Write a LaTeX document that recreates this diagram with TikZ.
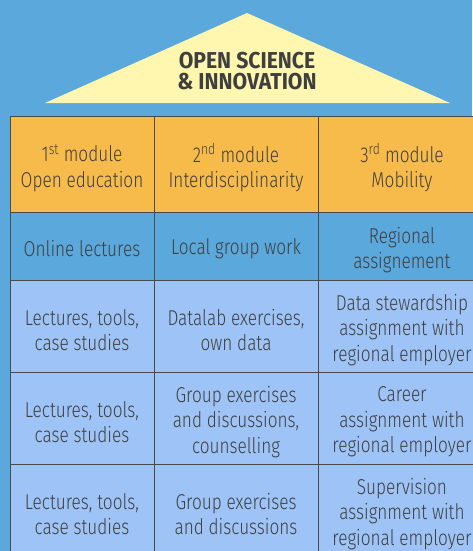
\documentclass[tikz,border=0pt]{standalone}
\usepackage{fontspec}
\setmainfont{Fira Sans}[UprightFont=* Light, FakeStretch=0.8]
\newfontfamily\rooffont{Fira Sans}[FakeStretch=0.92]
\usepackage{xcolor}

\definecolor{skyblue}{HTML}{5AA8DC}
\definecolor{roofyellow}{HTML}{FFF7B0}
\definecolor{headorange}{HTML}{F7BB4B}
\definecolor{paleblue}{HTML}{9EC4F7}
\definecolor{inkgray}{HTML}{3F3F3F}
\definecolor{linegray}{HTML}{4A4A4A}

\tikzset{
  cell/.style={draw=linegray, line width=0.9pt, inner sep=0pt},
  celltext/.style={align=center, inner sep=0pt, text=inkgray,
    font=\fontsize{21.5}{25.5}\selectfont},
  colA/.style={cell, minimum width=144pt},
  colB/.style={cell, minimum width=164pt},
  colC/.style={cell, minimum width=168pt},
  headrow/.style={fill=headorange, minimum height=96pt},
  lecrow/.style={fill=skyblue, minimum height=68pt},
  workrow/.style={fill=paleblue, minimum height=92pt}
}

\begin{document}
\begin{tikzpicture}[x=1pt, y=-1pt]
  % Background
  \fill[skyblue] (0, 0) rectangle (472, 551);
  \useasboundingbox (0, 0) rectangle (472, 551);

  % Roof
  \fill[roofyellow] (247, 13) -- (450, 103) -- (45, 103) -- cycle;
  \node[align=center, text=inkgray, font=\rooffont\fontsize{23}{21}\selectfont\bfseries]
    (title) at (247, 71) {OPEN SCIENCE\\\& INNOVATION};

  % Header row
  \node[colA, headrow] (mod1) at (82, 164) {};
  \node[colB, headrow] (mod2) at (236, 164) {};
  \node[colC, headrow] (mod3) at (402, 164) {};
  % Row 2
  \node[colA, lecrow] (online) at (82, 246) {};
  \node[colB, lecrow] (local) at (236, 246) {};
  \node[colC, lecrow] (regional) at (402, 246) {};
  % Row 3
  \node[colA, workrow] (lecA) at (82, 326) {};
  \node[colB, workrow] (datalab) at (236, 326) {};
  \node[colC, workrow] (steward) at (402, 326) {};
  % Row 4
  \node[colA, workrow] (lecB) at (82, 418) {};
  \node[colB, workrow] (groupA) at (236, 418) {};
  \node[colC, workrow] (career) at (402, 418) {};
  % Row 5 (bottom)
  \node[colA, workrow] (lecC) at (82, 510) {};
  \node[colB, workrow] (groupB) at (236, 510) {};
  \node[colC, workrow] (superv) at (402, 510) {};

  % Cell texts
  \node[celltext] (mod1-t) at ([yshift=-4pt]mod1.center)
    {1\textsuperscript{st} module\\Open education};
  \node[celltext] (mod2-t) at ([yshift=-4pt]mod2.center)
    {2\textsuperscript{nd} module\\Interdisciplinarity};
  \node[celltext] (mod3-t) at ([yshift=-4pt]mod3.center)
    {3\textsuperscript{rd} module\\Mobility};

  \node[celltext] (online-t) at ([yshift=-3pt]online.center) {Online lectures};
  \node[celltext] (local-t) at ([yshift=-3pt]local.center) {Local group work};
  \node[celltext] (regional-t) at ([yshift=-4pt]regional.center)
    {Regional\\assignement};

  \node[celltext] (lecA-t) at ([yshift=-4pt]lecA.center)
    {Lectures, tools,\\case studies};
  \node[celltext] (datalab-t) at ([yshift=-4pt]datalab.center)
    {Datalab exercises,\\own data};
  \node[celltext] (steward-t) at ([yshift=-4pt]steward.center)
    {Data stewardship\\assignment with\\regional employer};

  \node[celltext] (lecB-t) at ([yshift=-4pt]lecB.center)
    {Lectures, tools,\\case studies};
  \node[celltext] (groupA-t) at ([yshift=-4pt]groupA.center)
    {Group exercises\\and discussions,\\counselling};
  \node[celltext] (career-t) at ([yshift=-4pt]career.center)
    {Career\\assignment with\\regional employer};

  \node[celltext] (lecC-t) at ([yshift=-4pt]lecC.center)
    {Lectures, tools,\\case studies};
  \node[celltext] (groupB-t) at ([yshift=-4pt]groupB.center)
    {Group exercises\\and discussions};
  \node[celltext] (superv-t) at ([yshift=-4pt]superv.center)
    {Supervision\\assignment with\\regional employer};
\end{tikzpicture}
\end{document}
